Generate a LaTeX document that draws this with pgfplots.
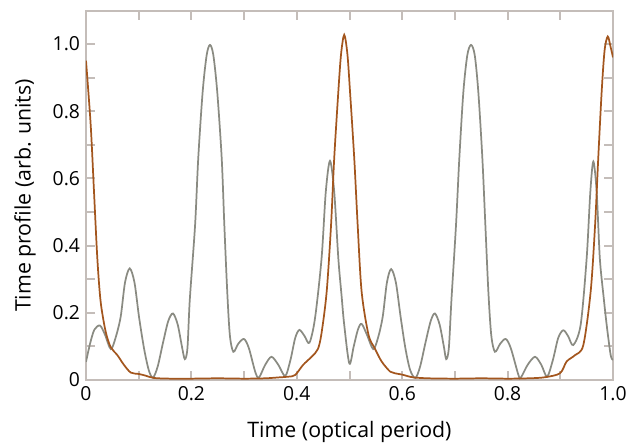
\documentclass[border=0pt]{standalone}
\usepackage{pgfplots}
\pgfplotsset{compat=1.18}
\usepackage{fontspec}
\setmainfont{Open Sans}
\definecolor{framec}{RGB}{196,189,185}
\definecolor{grayc}{RGB}{138,139,130}
\definecolor{brownc}{RGB}{163,86,30}
\begin{document}
\begin{tikzpicture}
\begin{axis}[
  scale only axis,
  width=395.25pt, height=276.75pt,
  xmin=0, xmax=1, ymin=0, ymax=1.098,
  xtick={0,0.2,0.4,0.6,0.8,1.0},
  minor xtick={0.1,0.3,0.5,0.7,0.9},
  xticklabels={0,0.2,0.4,0.6,0.8,1.0},
  ytick={0,0.2,0.4,0.6,0.8,1.0},
  minor ytick={0.1,0.3,0.5,0.7,0.9},
  yticklabels={0,0.2,0.4,0.6,0.8,1.0},
  tick align=inside,
  major tick length=6.75pt, minor tick length=6.75pt,
  every tick/.style={framec, line width=1.5pt},
  axis line style={framec, line width=2.1pt},
  tick label style={font=\fontsize{14.5}{16}\selectfont, black},
  label style={font=\fontsize{16}{18}\selectfont, black},
  xlabel={Time (optical period)},
  ylabel={Time profile (arb. units)},
  xlabel style={at={(axis description cs:0.5,-0.141)}, anchor=center},
  ylabel style={at={(axis description cs:-0.1157,0.5)}, anchor=center, rotate=0},
  xticklabel style={yshift=-1pt},
  yticklabel style={xshift=-1pt},
]
\addplot[grayc, line width=1.3pt, smooth, tension=0.5] coordinates {
(0.000,0.054) (0.008,0.110) (0.016,0.150) (0.0266,0.162) (0.036,0.135) (0.047,0.092)
(0.056,0.125) (0.0658,0.188) (0.074,0.290) (0.083,0.332) (0.092,0.290) (0.1006,0.188)
(0.110,0.095) (0.119,0.030) (0.127,0.007) (0.136,0.040) (0.146,0.110) (0.156,0.175)
(0.165,0.198) (0.174,0.165) (0.182,0.100) (0.1875,0.062) (0.1925,0.095) (0.197,0.240) (0.207,0.461)
(0.213,0.660) (0.2214,0.858) (0.229,0.967) (0.2353,0.997) (0.2416,0.967) (0.249,0.858)
(0.2575,0.660) (0.2625,0.461) (0.268,0.263) (0.273,0.133) (0.2796,0.084) (0.289,0.108)
(0.2998,0.122) (0.309,0.095) (0.321,0.025) (0.328,0.007) (0.340,0.045) (0.352,0.069)
(0.365,0.045) (0.378,0.012) (0.388,0.060) (0.397,0.125) (0.405,0.149) (0.415,0.130)
(0.424,0.111) (0.4345,0.183) (0.447,0.362) (0.455,0.560) (0.463,0.652) (0.471,0.560)
(0.4788,0.362) (0.485,0.250) (0.490,0.164) (0.4997,0.049) (0.508,0.100) (0.516,0.150)
(0.523,0.167) (0.533,0.135) (0.545,0.092) (0.554,0.125) (0.563,0.188) (0.571,0.290)
(0.579,0.330) (0.588,0.290) (0.597,0.188) (0.606,0.095) (0.615,0.030) (0.625,0.006)
(0.634,0.040) (0.644,0.110) (0.654,0.175) (0.662,0.198) (0.671,0.165) (0.679,0.100)
(0.6835,0.062) (0.6885,0.095) (0.6935,0.240) (0.7021,0.461) (0.7084,0.660) (0.7161,0.858) (0.7236,0.967)
(0.7306,0.997) (0.7376,0.967) (0.7444,0.858) (0.7521,0.660) (0.7578,0.461) (0.7635,0.263)
(0.769,0.133) (0.776,0.084) (0.786,0.108) (0.7964,0.122) (0.806,0.095) (0.8205,0.015)
(0.825,0.007) (0.838,0.045) (0.852,0.069) (0.864,0.045) (0.875,0.010) (0.886,0.060)
(0.896,0.125) (0.9057,0.148) (0.915,0.130) (0.9246,0.104) (0.9386,0.164) (0.950,0.362)
(0.957,0.560) (0.9627,0.650) (0.969,0.560) (0.975,0.362) (0.982,0.250) (0.988,0.164)
(0.9956,0.074) (1.000,0.060)
};
\addplot[brownc, line width=1.3pt, smooth, tension=0.5] coordinates {
(0.000,0.950) (0.0089,0.759) (0.0152,0.560) (0.0215,0.362) (0.0278,0.233) (0.0373,0.144)
(0.0468,0.098) (0.0595,0.074) (0.072,0.045) (0.085,0.022) (0.100,0.018) (0.113,0.013)
(0.129,0.006) (0.160,0.004) (0.200,0.004) (0.250,0.005) (0.300,0.004) (0.340,0.005)
(0.368,0.008) (0.385,0.010) (0.397,0.015) (0.412,0.045) (0.428,0.069) (0.440,0.092)
(0.447,0.140) (0.4567,0.263) (0.465,0.461) (0.471,0.660) (0.4788,0.858) (0.484,0.970)
(0.490,1.027) (0.496,0.970) (0.501,0.858) (0.509,0.660) (0.5155,0.461) (0.523,0.263)
(0.536,0.135) (0.548,0.094) (0.561,0.055) (0.577,0.025) (0.586,0.020) (0.600,0.016)
(0.620,0.008) (0.650,0.005) (0.700,0.004) (0.750,0.005) (0.800,0.004) (0.840,0.005)
(0.870,0.008) (0.8994,0.020) (0.912,0.055) (0.928,0.074) (0.9437,0.104) (0.9576,0.263)
(0.966,0.461) (0.972,0.660) (0.9785,0.858) (0.984,0.980) (0.990,1.022) (0.9956,0.990)
(1.000,0.960)
};
\end{axis}
\pgfresetboundingbox
\path (current axis.south west) ++(-64.5pt,-48.75pt) coordinate (bbA);
\path[use as bounding box] (bbA) rectangle ++(471pt,333.75pt);
\end{tikzpicture}
\end{document}
